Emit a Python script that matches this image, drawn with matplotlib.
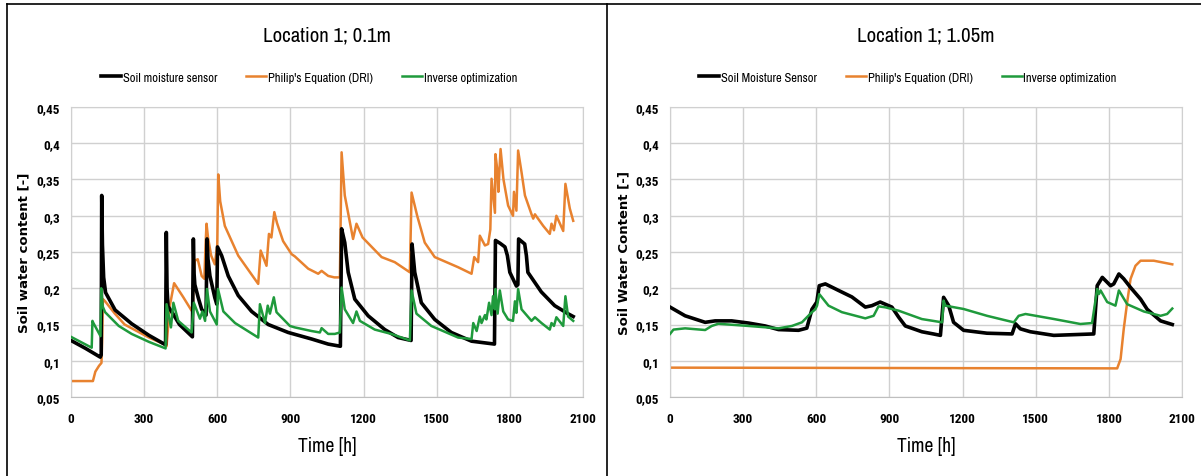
import numpy as np
import matplotlib
matplotlib.use('Agg')
import matplotlib.pyplot as plt
from matplotlib.lines import Line2D

plt.rcParams['font.family'] = ['Archivo Narrow', 'DejaVu Sans']

# ---- data, depth 0.1 m ----
t_sens_01 = [0, 60, 120, 124, 126, 129, 134, 142, 181, 249, 320, 388, 391, 394, 398, 418, 445, 498,
             502, 505, 508, 522, 536, 554, 558, 562, 570, 590, 598, 601, 618, 645, 686, 741, 809, 891,
             987, 1055, 1105, 1110, 1123, 1137, 1164, 1219, 1287, 1342, 1395, 1399, 1410, 1437, 1492,
             1560, 1643, 1737, 1741, 1760, 1780, 1790, 1800, 1827, 1833, 1836, 1861, 1868, 1874, 1929,
             1984, 2038, 2060]
v_sens_01 = [0.128, 0.117, 0.105, 0.108, 0.328, 0.26, 0.215, 0.194, 0.170, 0.151, 0.135, 0.122, 0.277,
             0.20, 0.175, 0.165, 0.150, 0.133, 0.268, 0.22, 0.205, 0.187, 0.171, 0.163, 0.268, 0.24,
             0.217, 0.187, 0.178, 0.257, 0.245, 0.217, 0.190, 0.168, 0.150, 0.139, 0.130, 0.123, 0.120,
             0.282, 0.263, 0.222, 0.185, 0.162, 0.143, 0.132, 0.128, 0.261, 0.222, 0.180, 0.157, 0.139,
             0.127, 0.123, 0.266, 0.262, 0.257, 0.245, 0.222, 0.203, 0.205, 0.268, 0.261, 0.245, 0.222,
             0.195, 0.176, 0.165, 0.161]

t_phil_01 = [0, 90, 100, 115, 125, 128, 131, 140, 180, 220, 320, 388, 392, 405, 423, 460, 495, 500, 503,
             508, 520, 536, 547, 552, 556, 562, 575, 590, 600, 604, 612, 631, 686, 768, 778, 802, 812,
             822, 834, 845, 870, 905, 918, 973, 1014, 1028, 1055, 1080, 1103, 1110, 1123, 1157, 1171,
             1196, 1274, 1328, 1390, 1397, 1420, 1451, 1492, 1588, 1643, 1654, 1670, 1677, 1698, 1711,
             1720, 1725, 1739, 1741, 1748, 1753, 1762, 1774, 1793, 1813, 1817, 1827, 1834, 1848, 1862,
             1889, 1896, 1903, 1937, 1964, 1971, 1981, 1991, 2019, 2028, 2046, 2060]
v_phil_01 = [0.072, 0.072, 0.085, 0.093, 0.097, 0.13, 0.185, 0.182, 0.165, 0.150, 0.132, 0.122, 0.12,
             0.175, 0.207, 0.188, 0.169, 0.17, 0.215, 0.238, 0.24, 0.217, 0.213, 0.26, 0.289, 0.27,
             0.245, 0.233, 0.26, 0.357, 0.32, 0.286, 0.245, 0.206, 0.252, 0.231, 0.275, 0.27, 0.305,
             0.29, 0.265, 0.247, 0.244, 0.227, 0.220, 0.224, 0.217, 0.215, 0.215, 0.3875, 0.328, 0.268,
             0.289, 0.27, 0.243, 0.236, 0.222, 0.332, 0.30, 0.263, 0.243, 0.229, 0.22, 0.243, 0.236,
             0.2725, 0.259, 0.261, 0.281, 0.351, 0.304, 0.385, 0.365, 0.333, 0.392, 0.35, 0.314, 0.30,
             0.333, 0.307, 0.39, 0.36, 0.328, 0.302, 0.296, 0.302, 0.286, 0.275, 0.289, 0.28, 0.30,
             0.279, 0.344, 0.31, 0.293]

t_inv_01 = [0, 85, 88, 92, 121, 124, 130, 140, 196, 249, 320, 388, 392, 410, 420, 440, 495, 504, 529,
            539, 550, 558, 570, 598, 603, 625, 673, 768, 775, 796, 807, 816, 832, 843, 898, 918, 987,
            1021, 1028, 1055, 1082, 1103, 1110, 1123, 1157, 1171, 1185, 1246, 1314, 1390, 1397, 1417,
            1478, 1588, 1643, 1650, 1664, 1677, 1684, 1698, 1704, 1715, 1725, 1731, 1739, 1741, 1750,
            1759, 1773, 1793, 1813, 1821, 1827, 1834, 1848, 1889, 1903, 1930, 1964, 1971, 1981, 1991,
            2019, 2028, 2039, 2060]
v_inv_01 = [0.133, 0.118, 0.155, 0.152, 0.134, 0.20, 0.175, 0.167, 0.148, 0.137, 0.126, 0.117, 0.178,
            0.146, 0.18, 0.155, 0.139, 0.18, 0.158, 0.168, 0.155, 0.199, 0.168, 0.15, 0.199, 0.168,
            0.152, 0.132, 0.178, 0.152, 0.176, 0.165, 0.1875, 0.167, 0.148, 0.146, 0.141, 0.139, 0.145,
            0.137, 0.137, 0.139, 0.201, 0.171, 0.152, 0.168, 0.155, 0.143, 0.137, 0.128, 0.197, 0.165,
            0.148, 0.132, 0.13, 0.152, 0.141, 0.161, 0.152, 0.163, 0.157, 0.18, 0.163, 0.189, 0.171,
            0.199, 0.165, 0.197, 0.168, 0.157, 0.155, 0.182, 0.166, 0.199, 0.171, 0.155, 0.16, 0.152,
            0.143, 0.152, 0.148, 0.16, 0.148, 0.189, 0.161, 0.155]

# ---- data, depth 1.05 m ----
t_sens_105 = [0, 62, 144, 185, 253, 322, 390, 445, 527, 561, 582, 602, 612, 637, 691, 746, 801, 828,
              862, 910, 938, 965, 1033, 1080, 1109, 1122, 1143, 1163, 1204, 1300, 1403, 1417, 1437,
              1478, 1574, 1738, 1752, 1773, 1807, 1820, 1841, 1861, 1889, 1930, 1957, 2012, 2060]
v_sens_105 = [0.174, 0.162, 0.153, 0.155, 0.155, 0.152, 0.148, 0.143, 0.142, 0.145, 0.171, 0.181,
              0.2035, 0.206, 0.197, 0.188, 0.174, 0.176, 0.181, 0.174, 0.160, 0.148, 0.140, 0.137,
              0.135, 0.1875, 0.176, 0.153, 0.142, 0.138, 0.137, 0.151, 0.144, 0.140, 0.135, 0.137,
              0.2035, 0.215, 0.2035, 0.206, 0.2197, 0.213, 0.201, 0.185, 0.171, 0.155, 0.150]

t_phil_105 = [0, 600, 1200, 1834, 1848, 1861, 1875, 1889, 1909, 1930, 1984, 2060]
v_phil_105 = [0.0905, 0.0902, 0.0898, 0.0895, 0.1023, 0.144, 0.1806, 0.213, 0.231, 0.238, 0.238, 0.233]

t_inv_105 = [0, 14, 62, 144, 171, 198, 322, 445, 500, 541, 582, 596, 603, 612, 650, 705, 801, 835,
             855, 883, 938, 1033, 1116, 1122, 1129, 1204, 1300, 1410, 1430, 1458, 1574, 1683, 1731,
             1752, 1759, 1766, 1793, 1827, 1841, 1875, 1943, 2012, 2039, 2060]
v_inv_105 = [0.137, 0.143, 0.1447, 0.1424, 0.148, 0.151, 0.148, 0.1447, 0.148, 0.153, 0.167, 0.171,
             0.176, 0.192, 0.176, 0.167, 0.1585, 0.162, 0.175, 0.1737, 0.169, 0.1575, 0.153, 0.183,
             0.176, 0.1714, 0.162, 0.153, 0.162, 0.1645, 0.1576, 0.1507, 0.152, 0.199, 0.192, 0.197,
             0.181, 0.176, 0.197, 0.178, 0.168, 0.162, 0.1645, 0.172]

y_ticks = [0.05, 0.1, 0.15, 0.2, 0.25, 0.3, 0.35, 0.4, 0.45]
y_labels = ['0,05', '0,1', '0,15', '0,2', '0,25', '0,3', '0,35', '0,4', '0,45']
x_ticks = [0, 300, 600, 900, 1200, 1500, 1800, 2100]

c_black = '#000000'
c_orange = '#E8822F'
c_green = '#1F9A3C'

fig = plt.figure(figsize=(12.01, 4.77), dpi=100)

panels = [
    (0.0591, 'Location 1; 0.1m', 'Soil water content [-]',
     ['Soil moisture sensor', "Philip's Equation (DRI)", 'Inverse optimization'],
     (t_sens_01, v_sens_01), (t_phil_01, v_phil_01), (t_inv_01, v_inv_01)),
    (0.5579, 'Location 1; 1.05m', 'Soil Water Content [-]',
     ['Soil Moisture Sensor', "Philip's Equation (DRI)", 'Inverse optimization'],
     (t_sens_105, v_sens_105), (t_phil_105, v_phil_105), (t_inv_105, v_inv_105)),
]

for x0, title, ylab, names, sens, phil, inv in panels:
    ax = fig.add_axes([x0, 0.1656, 0.4263, 0.608])
    ax.plot(sens[0], sens[1], color=c_black, lw=2.6, label=names[0], zorder=3)
    ax.plot(phil[0], phil[1], color=c_orange, lw=1.8, label=names[1], zorder=2)
    ax.plot(inv[0], inv[1], color=c_green, lw=1.8, label=names[2], zorder=4)
    ax.set_xlim(0, 2100)
    ax.set_ylim(0.05, 0.45)
    ax.set_xticks(x_ticks)
    ax.set_yticks(y_ticks)
    ax.set_yticklabels(y_labels)
    ax.tick_params(axis='y', length=0, pad=8)
    ax.tick_params(axis='x', length=0, pad=11)
    for lab in ax.get_xticklabels() + ax.get_yticklabels():
        lab.set_family('Roboto Condensed')
        lab.set_fontweight('bold')
        lab.set_fontsize(9.5)
    ax.grid(True, color='#d0d0d0', lw=1)
    ax.set_axisbelow(True)
    for s in ax.spines.values():
        s.set_color('#d0d0d0')
    ax.spines['bottom'].set_color('#bfbfbf')
    ax.set_ylabel(ylab, family='DejaVu Sans', fontweight='bold', fontsize=9.5, labelpad=4)
    ax.set_xlabel('Time [h]', fontsize=14, labelpad=8)
    ax.set_title(title, fontsize=15, pad=48)
    ax.legend(loc='lower center', bbox_to_anchor=(0.465, 1.045), ncol=3, frameon=False,
              fontsize=9, handlelength=1.6, handletextpad=0.15, columnspacing=2.3)

# sheet borders around the picture
fig.add_artist(Line2D([0.006, 1.0], [0.99, 0.99], color='black', lw=1.2))
fig.add_artist(Line2D([0.006, 0.006], [0.0, 0.99], color='black', lw=1.2))
fig.add_artist(Line2D([0.505, 0.505], [0.0, 0.99], color='black', lw=1.2))

fig.savefig('out.png', dpi=100)
